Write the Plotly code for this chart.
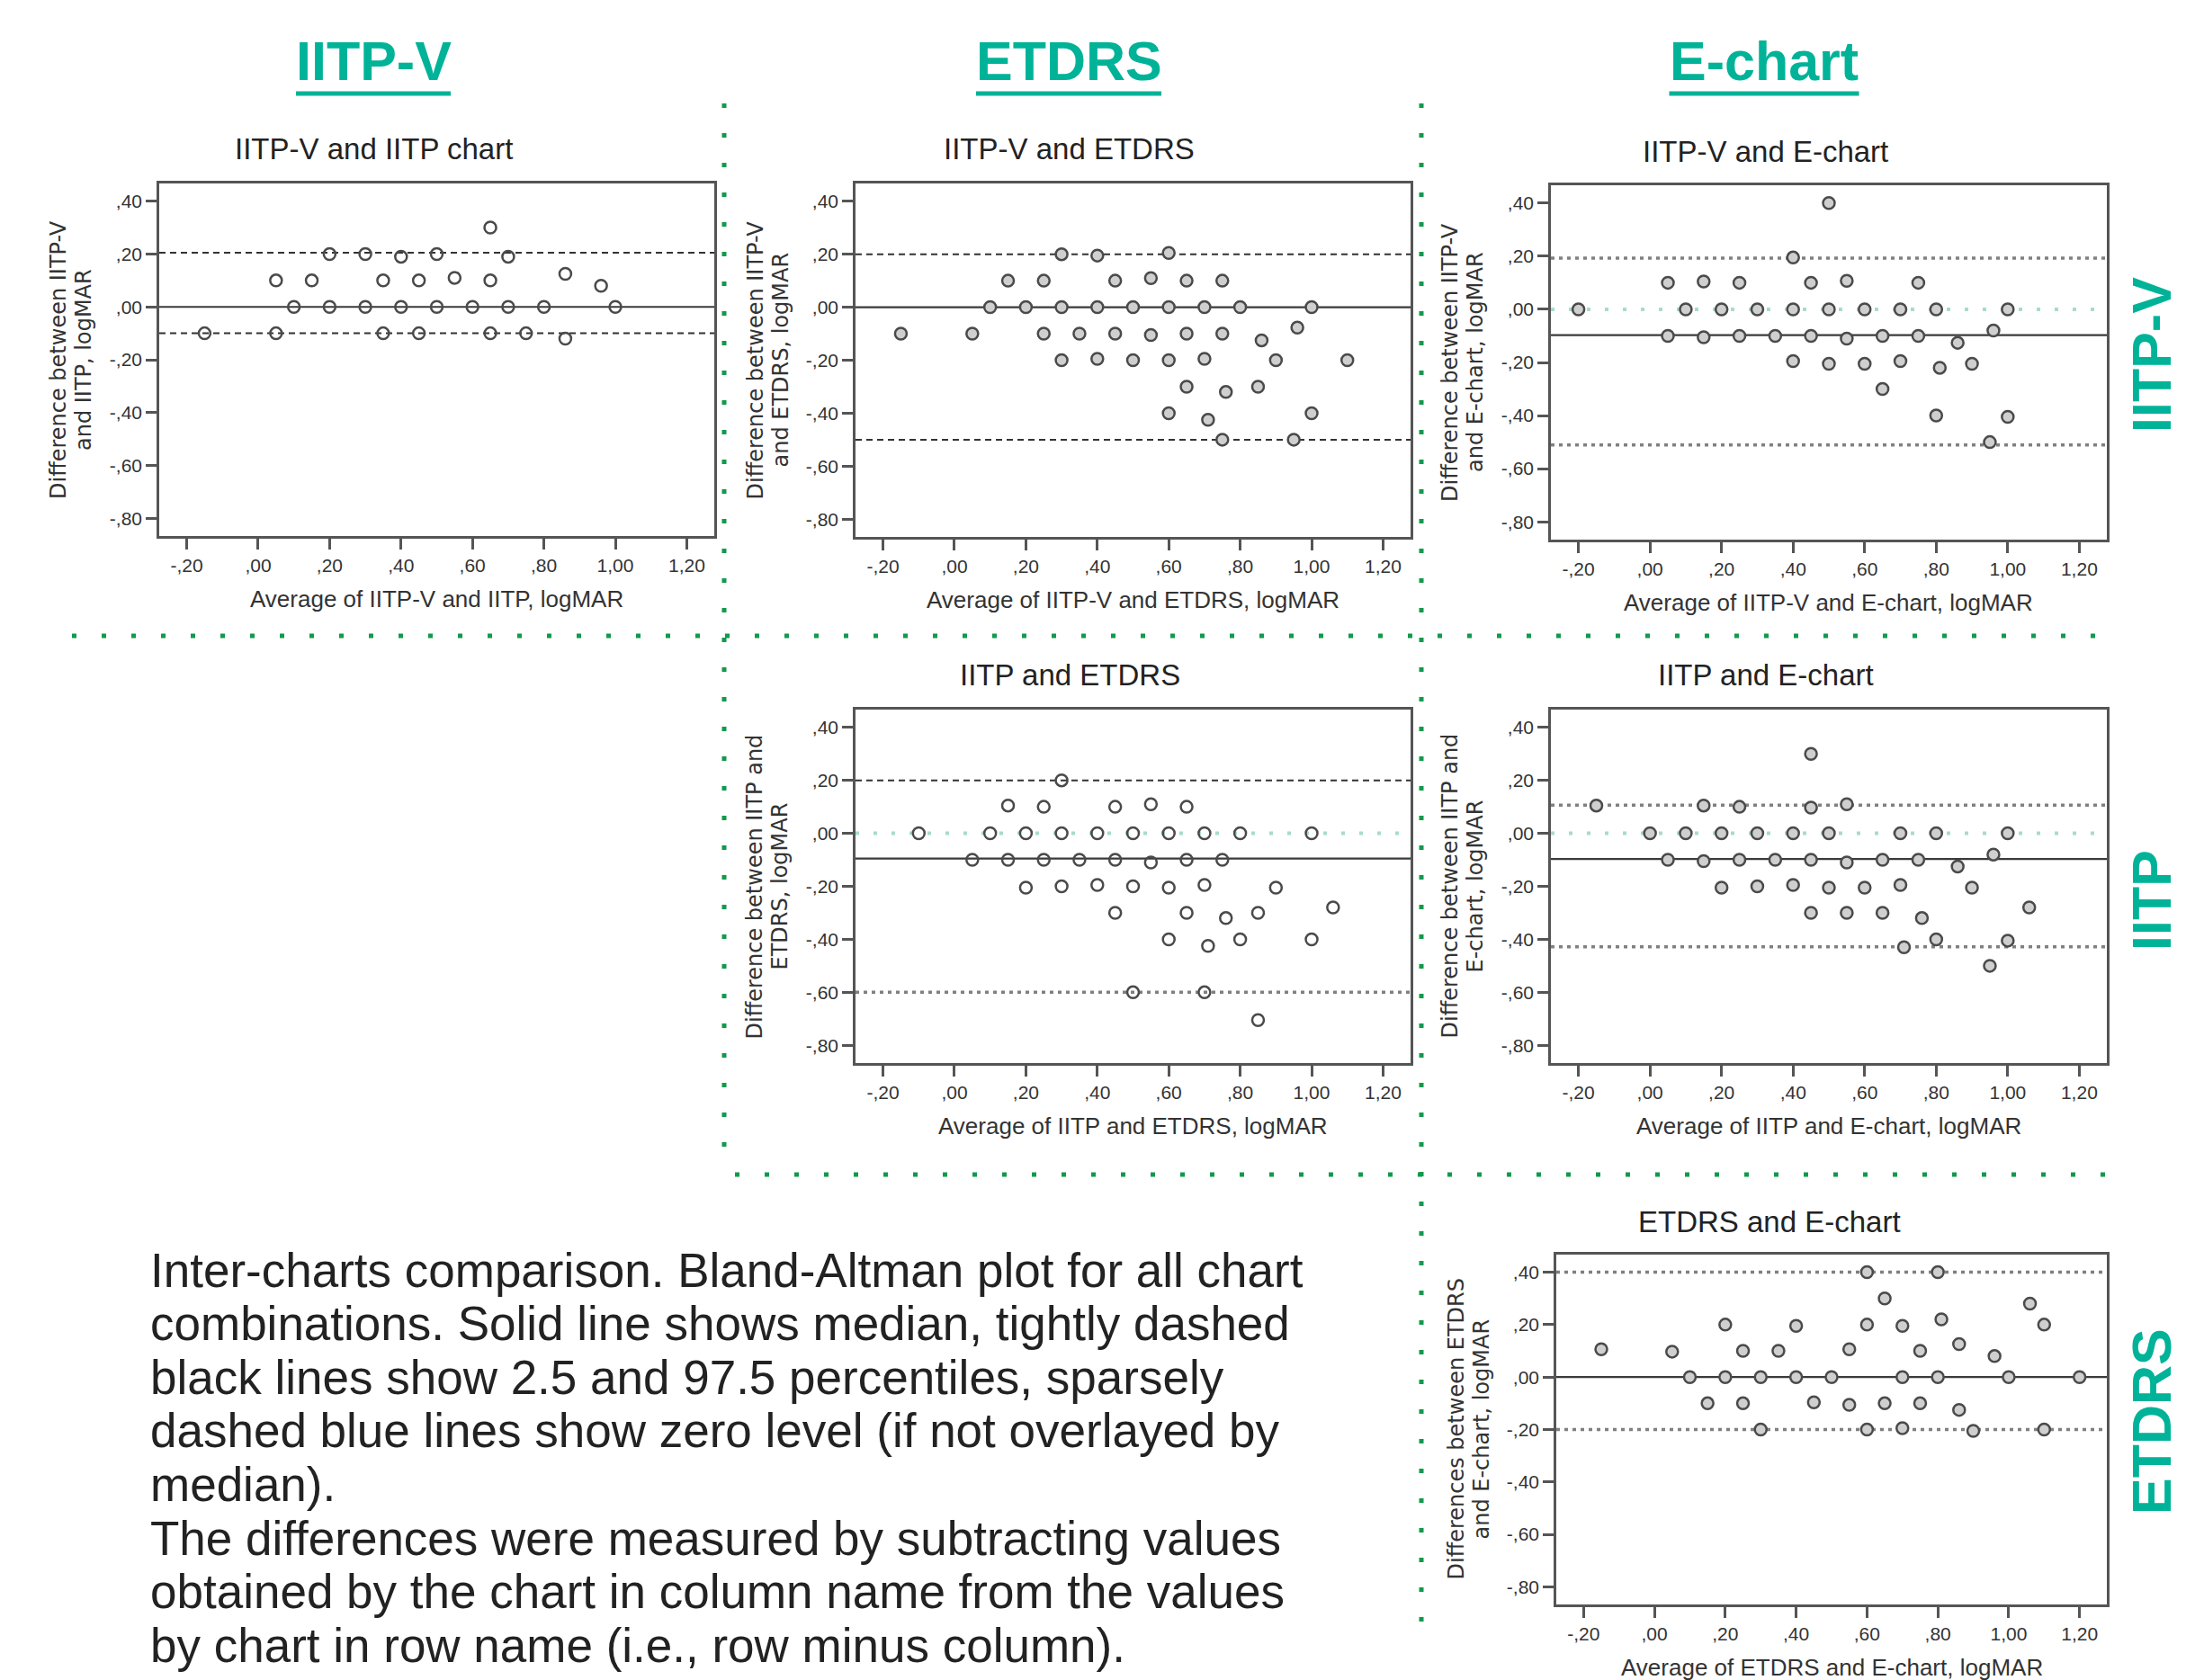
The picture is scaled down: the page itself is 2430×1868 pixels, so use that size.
import plotly.graph_objects as go

W, H = 2430, 1868
OFF = 8  # default page body margin of the html page, compensated in paper coordinates

# ---------------- data (average, difference) ----------------
# Panel 1: IITP-V and IITP chart
p1_avg = [-0.15, 0.05, 0.05, 0.10, 0.15, 0.20, 0.20, 0.30, 0.30, 0.35, 0.35, 0.40, 0.40, 0.45, 0.45,
          0.50, 0.50, 0.55, 0.60, 0.65, 0.65, 0.65, 0.70, 0.70, 0.75, 0.80, 0.86, 0.86, 0.96, 1.00]
p1_diff = [-0.10, 0.10, -0.10, 0.00, 0.10, 0.20, 0.00, 0.20, 0.00, 0.10, -0.10, 0.19, 0.00, 0.10, -0.10,
           0.20, 0.00, 0.11, 0.00, 0.30, 0.10, -0.10, 0.19, 0.00, -0.10, 0.00, 0.125, -0.12, 0.08, 0.00]
p1_stats = {"median": 0.00, "low": -0.10, "high": 0.205}

# Panel 2: IITP-V and ETDRS
p2_avg = [-0.15, 0.05, 0.10, 0.15, 0.20, 0.25, 0.25, 0.30, 0.30, 0.30, 0.35, 0.40, 0.40, 0.40, 0.45,
          0.45, 0.50, 0.50, 0.55, 0.55, 0.60, 0.60, 0.60, 0.60, 0.65, 0.65, 0.65, 0.70, 0.70, 0.71,
          0.75, 0.75, 0.75, 0.76, 0.80, 0.85, 0.86, 0.90, 0.95, 0.96, 1.00, 1.00, 1.10]
p2_diff = [-0.10, -0.10, 0.00, 0.10, 0.00, 0.10, -0.10, 0.20, 0.00, -0.20, -0.10, 0.195, 0.00, -0.195, 0.10,
           -0.10, 0.00, -0.20, 0.11, -0.105, 0.205, 0.00, -0.20, -0.40, -0.30, 0.10, -0.10, 0.00, -0.195, -0.425,
           0.10, -0.10, -0.50, -0.32, 0.00, -0.30, -0.125, -0.20, -0.50, -0.077, 0.00, -0.40, -0.20]
p2_stats = {"median": 0.00, "low": -0.50, "high": 0.20}

# Panel 3: IITP-V and E-chart
p3_avg = [-0.20, 0.05, 0.05, 0.10, 0.15, 0.15, 0.20, 0.25, 0.25, 0.30, 0.35, 0.40, 0.40, 0.40, 0.45,
          0.45, 0.50, 0.50, 0.50, 0.55, 0.55, 0.60, 0.60, 0.65, 0.65, 0.70, 0.70, 0.75, 0.75, 0.80,
          0.80, 0.81, 0.86, 0.90, 0.95, 0.96, 1.00, 1.00]
p3_diff = [0.00, 0.10, -0.10, 0.00, 0.105, -0.105, 0.00, 0.10, -0.10, 0.00, -0.10, 0.195, 0.00, -0.195, 0.10,
           -0.10, 0.00, 0.40, -0.205, 0.107, -0.11, -0.205, 0.00, -0.30, -0.10, 0.00, -0.195, 0.10, -0.10, 0.00,
           -0.40, -0.22, -0.126, -0.205, -0.50, -0.08, 0.00, -0.405]
p3_stats = {"median": -0.097, "low": -0.511, "high": 0.193}

# Panel 4: IITP and ETDRS
p4_avg = [-0.10, 0.05, 0.10, 0.15, 0.15, 0.20, 0.20, 0.25, 0.25, 0.30, 0.30, 0.30, 0.35, 0.40, 0.40,
          0.45, 0.45, 0.45, 0.50, 0.50, 0.50, 0.55, 0.55, 0.60, 0.60, 0.60, 0.65, 0.65, 0.65, 0.70,
          0.70, 0.71, 0.70, 0.75, 0.76, 0.80, 0.80, 0.85, 0.85, 0.90, 1.00, 1.00, 1.06]
p4_diff = [0.00, -0.10, 0.00, 0.105, -0.10, 0.00, -0.205, 0.10, -0.10, 0.20, 0.00, -0.20, -0.10, 0.00, -0.195,
           0.10, -0.10, -0.30, 0.00, -0.20, -0.60, 0.11, -0.11, 0.00, -0.205, -0.40, -0.30, 0.10, -0.10, 0.00,
           -0.195, -0.425, -0.60, -0.10, -0.32, 0.00, -0.40, -0.30, -0.705, -0.205, 0.00, -0.40, -0.28]
p4_stats = {"median": -0.095, "low": -0.60, "high": 0.20}

# Panel 5: IITP and E-chart
p5_avg = [-0.15, 0.00, 0.05, 0.10, 0.15, 0.15, 0.20, 0.20, 0.25, 0.25, 0.30, 0.30, 0.35, 0.40, 0.40,
          0.45, 0.45, 0.45, 0.45, 0.50, 0.50, 0.55, 0.55, 0.55, 0.60, 0.65, 0.65, 0.70, 0.70, 0.71,
          0.75, 0.76, 0.80, 0.80, 0.86, 0.90, 0.95, 0.96, 1.00, 1.00, 1.06]
p5_diff = [0.105, 0.00, -0.10, 0.00, 0.105, -0.105, 0.00, -0.205, 0.10, -0.10, 0.00, -0.20, -0.10, 0.00, -0.195,
           0.097, -0.10, 0.30, -0.30, 0.00, -0.205, 0.11, -0.11, -0.30, -0.205, -0.30, -0.10, 0.00, -0.195, -0.43,
           -0.10, -0.32, 0.00, -0.40, -0.125, -0.205, -0.50, -0.08, 0.00, -0.405, -0.28]
p5_stats = {"median": -0.097, "low": -0.428, "high": 0.106}

# Panel 6: ETDRS and E-chart
p6_avg = [-0.15, 0.05, 0.10, 0.15, 0.20, 0.20, 0.25, 0.25, 0.30, 0.30, 0.35, 0.40, 0.40, 0.45, 0.50,
          0.55, 0.55, 0.60, 0.60, 0.60, 0.65, 0.65, 0.70, 0.70, 0.70, 0.75, 0.75, 0.80, 0.80, 0.81,
          0.86, 0.86, 0.90, 0.96, 1.00, 1.06, 1.10, 1.10, 1.20]
p6_diff = [0.106, 0.097, 0.00, -0.10, 0.20, 0.00, 0.10, -0.10, 0.00, -0.20, 0.10, 0.195, 0.00, -0.096, 0.00,
           0.106, -0.106, 0.40, 0.20, -0.20, 0.30, -0.10, 0.195, 0.00, -0.195, 0.10, -0.10, 0.40, 0.00, 0.22,
           0.126, -0.125, -0.205, 0.08, 0.00, 0.28, 0.20, -0.20, 0.00]
p6_stats = {"median": 0.00, "low": -0.20, "high": 0.40}

# tick labels
y_tickvals = [0.40, 0.20, 0.00, -0.20, -0.40, -0.60, -0.80]
y_ticktext = [",40", ",20", ",00", "-,20", "-,40", "-,60", "-,80"]
x_tickvals = [-0.20, 0.00, 0.20, 0.40, 0.60, 0.80, 1.00, 1.20]
x_ticktext = ["-,20", ",00", ",20", ",40", ",60", ",80", "1,00", "1,20"]

col_headers = ["IITP-V", "ETDRS", "E-chart"]
row_headers = ["IITP-V", "IITP", "ETDRS"]

caption_lines = [
    "Inter-charts comparison. Bland-Altman plot for all chart",
    "combinations. Solid line shows median, tightly dashed",
    "black lines show 2.5 and 97.5 percentiles, sparsely",
    "dashed blue lines show zero level (if not overlayed by",
    "median).",
    "The differences were measured by subtracting values",
    "obtained by the chart in column name from the values",
    "by chart in row name (i.e., row minus column).",
]

# ---------------- layout helpers ----------------
def fx(px):
    return (px - OFF) / W

def fy(py):
    return 1 - (py - OFF) / H

TEAL = "#00b398"
GREEN = "#119a4c"
AX = "#555555"
TXT_FONT = "Liberation Sans, Arial, sans-serif"
WIDE_FONT = "DejaVu Sans, Verdana, sans-serif"

panels = [
    dict(title="IITP-V and IITP chart", xt="Average of IITP-V and IITP, logMAR",
         yt=["Difference between IITP-V", "and IITP, logMAR"], x=p1_avg, y=p1_diff, st=p1_stats,
         fill="rgba(255,255,255,0)", hi="dash", lo="dash", zero=False,
         xd=(177, 794), yd=(204, 596), tpos=(415, 166)),
    dict(title="IITP-V and ETDRS", xt="Average of IITP-V and ETDRS, logMAR",
         yt=["Difference between IITP-V", "and ETDRS, logMAR"], x=p2_avg, y=p2_diff, st=p2_stats,
         fill="#cfcfcf", hi="dash", lo="dash", zero=False,
         xd=(951, 1568), yd=(204, 597), tpos=(1188, 166)),
    dict(title="IITP-V and E-chart", xt="Average of IITP-V and E-chart, logMAR",
         yt=["Difference between IITP-V", "and E-chart, logMAR"], x=p3_avg, y=p3_diff, st=p3_stats,
         fill="#cfcfcf", hi="dot", lo="dot", zero=True,
         xd=(1724, 2342), yd=(206, 600), tpos=(1963, 169)),
    dict(title="IITP and ETDRS", xt="Average of IITP and ETDRS, logMAR",
         yt=["Difference between IITP and", "ETDRS, logMAR"], x=p4_avg, y=p4_diff, st=p4_stats,
         fill="rgba(255,255,255,0)", hi="dash", lo="dot", zero=True,
         xd=(951, 1568), yd=(789, 1182), tpos=(1189, 750)),
    dict(title="IITP and E-chart", xt="Average of IITP and E-chart, logMAR",
         yt=["Difference between IITP and", "E-chart, logMAR"], x=p5_avg, y=p5_diff, st=p5_stats,
         fill="#cfcfcf", hi="dot", lo="dot", zero=True,
         xd=(1724, 2342), yd=(789, 1182), tpos=(1963, 750)),
    dict(title="ETDRS and E-chart", xt="Average of ETDRS and E-chart, logMAR",
         yt=["Differences between ETDRS", "and E-chart, logMAR"], x=p6_avg, y=p6_diff, st=p6_stats,
         fill="#cfcfcf", hi="dot", lo="dot", zero=False,
         xd=(1730, 2342), yd=(1395, 1784), tpos=(1967, 1358)),
]

LIMIT_STYLES = {
    "dash": dict(color="#333333", width=2, dash="7px,5px"),
    "dot": dict(color="#808080", width=3.5, dash="4px,5px"),
}

fig = go.Figure()
layout = dict(width=W, height=H, margin=dict(l=0, r=0, t=0, b=0),
              paper_bgcolor="white", plot_bgcolor="white", showlegend=False)
shapes = []
annotations = []

for i, p in enumerate(panels, start=1):
    xa = "x" if i == 1 else f"x{i}"
    ya = "y" if i == 1 else f"y{i}"
    xkey = "xaxis" if i == 1 else f"xaxis{i}"
    ykey = "yaxis" if i == 1 else f"yaxis{i}"
    xdom = [fx(p["xd"][0]), fx(p["xd"][1])]
    ydom = [fy(p["yd"][1]), fy(p["yd"][0])]
    common = dict(showline=True, mirror=True, linecolor=AX, linewidth=2.5, ticks="outside",
                  ticklen=12, tickwidth=2.5, tickcolor=AX, showgrid=False, zeroline=False,
                  tickfont=dict(family=TXT_FONT, size=21, color="#333333"))
    layout[xkey] = dict(domain=xdom, anchor=ya, range=[-0.277, 1.277], tickvals=x_tickvals,
                        ticktext=x_ticktext, **common)
    layout[ykey] = dict(domain=ydom, anchor=xa, range=[-0.867, 0.467], tickvals=y_tickvals,
                        ticktext=y_ticktext, **common)

    xdomref = f"{xa} domain"
    if p["zero"]:
        shapes.append(dict(type="line", xref=xdomref, yref=ya, x0=0, x1=1, y0=0, y1=0, layer="below",
                           line=dict(color="#a6dcc8", width=4, dash="4px,16px")))
    shapes.append(dict(type="line", xref=xdomref, yref=ya, x0=0, x1=1,
                       y0=p["st"]["high"], y1=p["st"]["high"], layer="below", line=LIMIT_STYLES[p["hi"]]))
    shapes.append(dict(type="line", xref=xdomref, yref=ya, x0=0, x1=1,
                       y0=p["st"]["low"], y1=p["st"]["low"], layer="below", line=LIMIT_STYLES[p["lo"]]))
    shapes.append(dict(type="line", xref=xdomref, yref=ya, x0=0, x1=1,
                       y0=p["st"]["median"], y1=p["st"]["median"], layer="below",
                       line=dict(color="#3a3a3a", width=2.2)))

    fig.add_trace(go.Scatter(x=p["x"], y=p["y"], mode="markers", xaxis=xa, yaxis=ya,
                             marker=dict(size=13, color=p["fill"],
                                         line=dict(color="#4a4a4a", width=2.5)),
                             hoverinfo="x+y"))

    # panel title
    annotations.append(dict(text=p["title"], x=fx(p["tpos"][0]), y=fy(p["tpos"][1]),
                            xref="paper", yref="paper", showarrow=False, xanchor="center",
                            yanchor="middle", font=dict(family=TXT_FONT, size=33, color="#222222")))
    # x-axis title
    annotations.append(dict(text=p["xt"], x=(xdom[0] + xdom[1]) / 2, y=fy(p["yd"][1] + 70),
                            xref="paper", yref="paper", showarrow=False, xanchor="center",
                            yanchor="middle", font=dict(family=TXT_FONT, size=26, color="#333333")))
    # y-axis title (two lines)
    for k, line in enumerate(p["yt"]):
        annotations.append(dict(text=line, x=fx(p["xd"][0] - 112 + 28 * k), y=(ydom[0] + ydom[1]) / 2,
                                xref="paper", yref="paper", showarrow=False, xanchor="center",
                                yanchor="middle", textangle=-90,
                                font=dict(family=WIDE_FONT, size=24, color="#333333")))

# column headers with underline bars
col_centers = [415, 1188, 1961]
col_widths = [172, 206, 211]
for name, cx, wd in zip(col_headers, col_centers, col_widths):
    annotations.append(dict(text=f"<b>{name}</b>", x=fx(cx), y=fy(68), xref="paper", yref="paper",
                            showarrow=False, xanchor="center", yanchor="middle",
                            font=dict(family=TXT_FONT, size=61, color=TEAL)))
    shapes.append(dict(type="line", xref="paper", yref="paper", x0=fx(cx - wd / 2), x1=fx(cx + wd / 2),
                       y0=fy(104), y1=fy(104), line=dict(color=TEAL, width=5)))

# row headers (rotated) with underline bars
row_centers = [395, 1001, 1581]
row_lengths = [173, 106, 202]
for name, cy, ln in zip(row_headers, row_centers, row_lengths):
    annotations.append(dict(text=f"<b>{name}</b>", x=fx(2392), y=fy(cy), xref="paper", yref="paper",
                            showarrow=False, xanchor="center", yanchor="middle", textangle=-90,
                            font=dict(family=TXT_FONT, size=61, color=TEAL)))
    shapes.append(dict(type="line", xref="paper", yref="paper", x0=fx(2427), x1=fx(2427),
                       y0=fy(cy - ln / 2), y1=fy(cy + ln / 2), line=dict(color=TEAL, width=5)))

# caption, one annotation per line
for k, line in enumerate(caption_lines):
    annotations.append(dict(text=line, x=fx(165), y=fy(1412 + 59.6 * k), xref="paper", yref="paper",
                            showarrow=False, xanchor="left", yanchor="middle", align="left",
                            font=dict(family=TXT_FONT, size=53, color="#222222")))

# green dotted separators
sep = dict(color=GREEN, width=5, dash="5px,28px")
for x0, y0, x1, y1 in [(805, 115, 805, 1280), (1580, 115, 1580, 1822),
                       (80, 707, 2340, 707), (817, 1306, 2358, 1306)]:
    shapes.append(dict(type="line", xref="paper", yref="paper", x0=fx(x0), y0=fy(y0),
                       x1=fx(x1), y1=fy(y1), line=sep))

layout["shapes"] = shapes
layout["annotations"] = annotations
fig.update_layout(**layout)
fig.write_html("out.html")
